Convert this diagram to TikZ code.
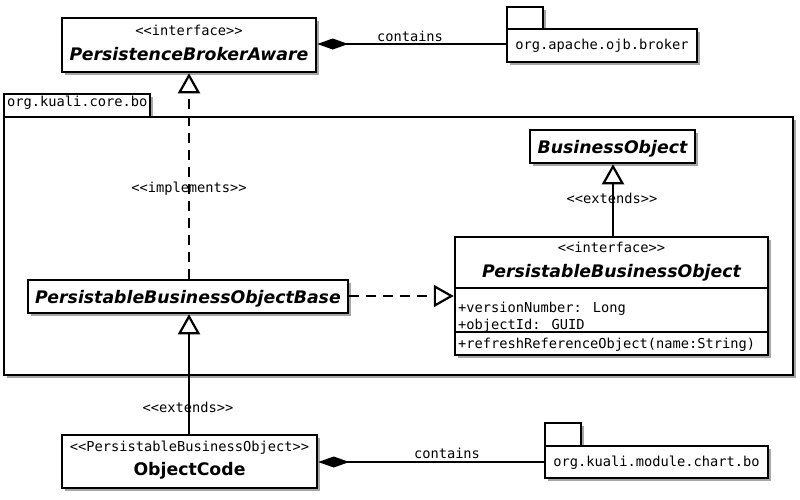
\documentclass[tikz,border=0pt]{standalone}
\usepackage{fontspec}
\setmainfont{DejaVu Sans}
\newfontfamily\monof{DejaVu Sans Mono}
\usetikzlibrary{arrows.meta,shadows}
\tikzset{
  shad/.style={drop shadow={shadow xshift=3pt, shadow yshift=-3pt, opacity=0.35, fill=black}},
  box/.style={draw, line width=2.5pt, fill=white, shad, inner sep=0pt},
  mono/.style={font=\monof\fontsize{13.7}{16}\selectfont, inner sep=0pt, anchor=base},
  cls/.style={font=\bfseries\itshape\fontsize{17.3}{20}\selectfont, inner sep=0pt, anchor=base},
  clsup/.style={font=\bfseries\fontsize{17.3}{20}\selectfont, inner sep=0pt, anchor=base},
  conn/.style={line width=2.2pt},
  dashconn/.style={line width=2.2pt, dash pattern=on 10pt off 7pt},
  gen/.style={-{Triangle[length=20pt, width=22pt, fill=white, line width=2.2pt]}},
  comp/.style={{Diamond[length=31pt, width=11pt]}-},
}
\begin{document}
\begin{tikzpicture}[x=1pt, y=-1pt]
\useasboundingbox (0,0) rectangle (800,499);
\fill[white] (0,0) rectangle (800,499);

% package org.kuali.core.bo
\node[box, minimum width=146pt, minimum height=23pt] (coretab) at (77,105.5) {};
\node[box, minimum width=789pt, minimum height=258pt] (corebody) at (398.5,246) {};
\node[mono, anchor=base west] (coretxt) at (7,106) {org.kuali.core.bo};

% package org.apache.ojb.broker
\node[box, minimum width=36pt, minimum height=22pt] (ojbtab) at (525,18) {};
\node[box, minimum width=190pt, minimum height=33pt] (ojb) at (602,45.5) {};
\node[mono] (ojbtxt) at (602,49) {org.apache.ojb.broker};

% package org.kuali.module.chart.bo
\node[box, minimum width=36pt, minimum height=23pt] (charttab) at (563,434.5) {};
\node[box, minimum width=223pt, minimum height=32pt] (chart) at (656.5,462) {};
\node[mono] (charttxt) at (656.5,466) {org.kuali.module.chart.bo};

% PersistenceBrokerAware
\node[box, minimum width=254pt, minimum height=54pt] (pba) at (189,45) {};
\node[mono] (pbast) at (189,35) {<<interface>>};
\node[cls] (pbaname) at (189,60) {PersistenceBrokerAware};

% BusinessObject
\node[box, minimum width=165pt, minimum height=33pt] (bo) at (612.5,146.5) {};
\node[cls] (boname) at (612.5,153) {BusinessObject};

% PersistableBusinessObjectBase
\node[box, minimum width=320pt, minimum height=33pt] (pbob) at (188,296.5) {};
\node[cls] (pbobname) at (188,303) {PersistableBusinessObjectBase};

% PersistableBusinessObject
\node[box, minimum width=313pt, minimum height=118pt] (pbo) at (611.5,296) {};
\draw[line width=2.2pt] (pbo.west |- 0,288) coordinate (s1a) -- (pbo.east |- 0,288) coordinate (s1b);
\draw[line width=2.2pt] (pbo.west |- 0,332) coordinate (s2a) -- (pbo.east |- 0,332) coordinate (s2b);
\node[mono] (pbost) at (611.5,252) {<<interface>>};
\node[cls] (pboname) at (611.5,277) {PersistableBusinessObject};
\node[mono, anchor=base west] (attr1) at (458,312) {+versionNumber: Long};
\node[mono, anchor=base west] (attr2) at (458,329) {+objectId: GUID};
\node[mono, anchor=base west] (op1) at (458,348) {+refreshReferenceObject(name:String)};

% ObjectCode
\node[box, minimum width=255pt, minimum height=53pt] (oc) at (189.5,461.5) {};
\node[mono] (ocst) at (189.5,451) {<<PersistableBusinessObject>>};
\node[clsup] (ocname) at (189.5,475) {ObjectCode};

% connectors
\draw[conn, comp] (pba.east |- 0,44) -- (ojb.west |- 0,44);
\node[mono] (lc1) at (410,41) {contains};

\draw[dashconn, gen] (pbob.north -| 189,0) -- (pba.south -| 189,0);
\node[mono] (limp) at (189,192) {<<implements>>};

\draw[dashconn, gen] (pbob.east |- 0,296) -- (pbo.west |- 0,296);

\draw[conn, gen] (pbo.north -| 613,0) -- (bo.south -| 613,0);
\node[mono] (lext1) at (612,203) {<<extends>>};

\draw[conn, gen] (oc.north -| 189,0) -- (pbob.south -| 189,0);
\node[mono] (lext2) at (188,412) {<<extends>>};

\draw[conn, comp] (oc.east |- 0,462) -- (chart.west |- 0,462);
\node[mono] (lc2) at (447,458) {contains};
\end{tikzpicture}
\end{document}
